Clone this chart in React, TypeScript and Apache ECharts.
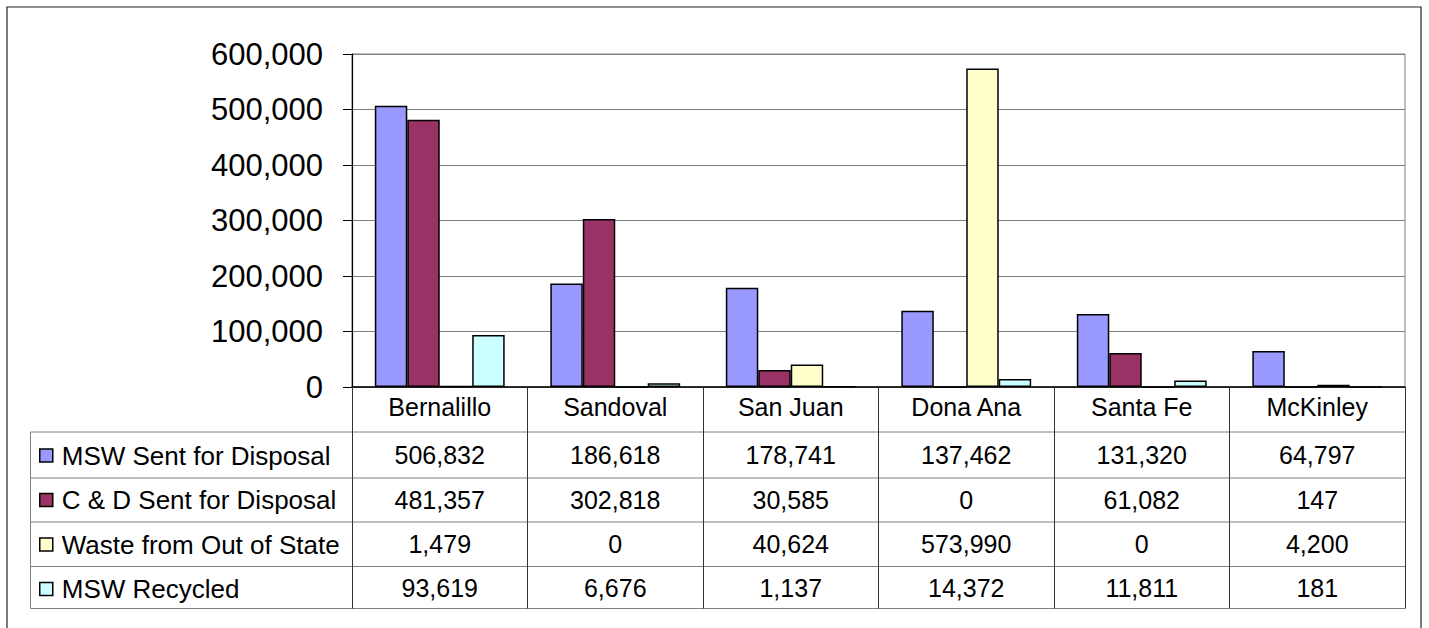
import React, { useEffect, useRef } from "react";
import * as echarts from "echarts";

const categories = ["Bernalillo", "Sandoval", "San Juan", "Dona Ana", "Santa Fe", "McKinley"];
const seriesNames = [
  "MSW Sent for Disposal",
  "C & D Sent for Disposal",
  "Waste from Out of State",
  "MSW Recycled",
];
const mswDisposal = [506832, 186618, 178741, 137462, 131320, 64797];
const cdDisposal = [481357, 302818, 30585, 0, 61082, 147];
const outOfState = [1479, 0, 40624, 573990, 0, 4200];
const mswRecycled = [93619, 6676, 1137, 14372, 11811, 181];
const seriesColors = ["#9999FF", "#993366", "#FFFFCC", "#CCFFFF"];
const yMin = 0;
const yMax = 600000;
const yInterval = 100000;

const FONT = "'Liberation Sans', Arial, sans-serif";
const fmt = (v: number) => v.toLocaleString("en-US");

// layout (pixels)
const GRID = { left: 352, right: 24, top: 54, bottom: 241 };
const AXIS_Y = 628 - GRID.bottom;
const TABLE_LEFT = 30.5;
const TABLE_RIGHT = 1429 - GRID.right;
const ROW_LINES = [432, 478, 522, 566.5, 608.5];

export default function App() {
  const ref = useRef<HTMLDivElement>(null);
  useEffect(() => {
    if (!ref.current) return;
    const chart = echarts.init(ref.current, undefined, { renderer: "svg" });
    const allData = [mswDisposal, cdDisposal, outOfState, mswRecycled];

    const valueAxes = allData.map((vals, i) => {
      const center = (ROW_LINES[i] + ROW_LINES[i + 1]) / 2;
      return {
        type: "category",
        gridIndex: 0,
        position: "bottom",
        offset: 0,
        data: categories,
        axisLine: { show: false },
        axisTick: { show: false },
        splitLine: { show: false },
        axisLabel: {
          interval: 0,
          margin: center - AXIS_Y,
          verticalAlign: "middle",
          fontSize: 25,
          lineHeight: 25,
          color: "#000",
          fontFamily: FONT,
          formatter: (_v: string, idx: number) => fmt(vals[idx]),
        },
      };
    });

    const graphicEls: any[] = [
      {
        type: "rect",
        shape: { x: 7, y: 7, width: 1414, height: 640 },
        style: { fill: "none", stroke: "#222", lineWidth: 1.2 },
        silent: true,
      },
      {
        type: "line",
        shape: { x1: TABLE_LEFT, y1: ROW_LINES[0], x2: TABLE_LEFT, y2: ROW_LINES[ROW_LINES.length - 1] },
        style: { stroke: "#808080", lineWidth: 1 },
        silent: true,
      },
      ...ROW_LINES.map((y) => ({
        type: "line",
        shape: { x1: TABLE_LEFT, y1: y, x2: TABLE_RIGHT, y2: y },
        style: { stroke: "#808080", lineWidth: 1 },
        silent: true,
      })),
    ];

    chart.setOption({
      animation: false,
      textStyle: { fontFamily: FONT },
      grid: {
        left: GRID.left,
        right: GRID.right,
        top: GRID.top,
        bottom: GRID.bottom,
        show: true,
        borderColor: "#808080",
        borderWidth: 1,
        backgroundColor: "transparent",
      },
      legend: {
        orient: "vertical",
        left: 39,
        top: 442.5,
        padding: 0,
        itemWidth: 13,
        itemHeight: 13,
        itemGap: 18.5,
        icon: "rect",
        selectedMode: false,
        data: seriesNames,
        itemStyle: { borderColor: "#000", borderWidth: 1.5 },
        textStyle: {
          fontSize: 26,
          lineHeight: 26,
          color: "#000",
          fontFamily: FONT,
          padding: [0, 0, 0, 4],
        },
      },
      xAxis: [
        {
          type: "category",
          gridIndex: 0,
          position: "bottom",
          data: categories,
          axisLine: { show: true, lineStyle: { color: "#000", width: 1.5 } },
          axisTick: {
            show: true,
            interval: 0,
            length: ROW_LINES[ROW_LINES.length - 1] - AXIS_Y,
            lineStyle: { color: "#333", width: 1 },
          },
          axisLabel: {
            interval: 0,
            margin: 20,
            verticalAlign: "middle",
            fontSize: 25,
            lineHeight: 25,
            color: "#000",
            fontFamily: FONT,
          },
        },
        ...valueAxes,
      ],
      yAxis: {
        type: "value",
        min: yMin,
        max: yMax,
        interval: yInterval,
        axisLine: { show: true, lineStyle: { color: "#000", width: 1.2 } },
        axisTick: { show: true, inside: false, length: 9, lineStyle: { color: "#000", width: 1 } },
        splitLine: { show: true, lineStyle: { color: "#808080", width: 1 } },
        axisLabel: {
          margin: 29,
          fontSize: 31,
          color: "#000",
          fontFamily: FONT,
          formatter: (v: number) => fmt(v),
        },
      },
      series: allData.map((vals, i) => ({
        name: seriesNames[i],
        type: "bar",
        xAxisIndex: 0,
        data: vals,
        barGap: "0%",
        barCategoryGap: "26%",
        itemStyle: { color: seriesColors[i], borderColor: "#000", borderWidth: 1.5 },
      })),
      graphic: graphicEls,
    });
    return () => chart.dispose();
  }, []);
  return (
    <div
      ref={ref}
      style={{ position: "fixed", left: 0, top: 0, width: 1429, height: 628, background: "#fff" }}
    />
  );
}
